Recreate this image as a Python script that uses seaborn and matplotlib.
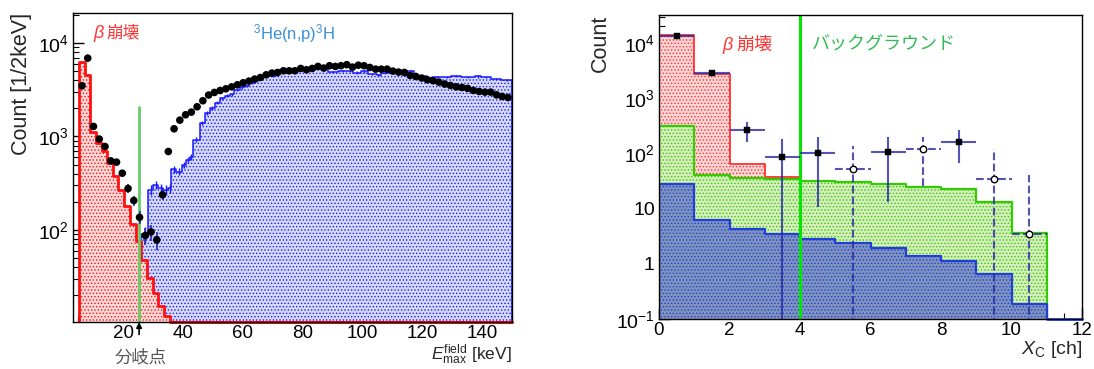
import numpy as np
import matplotlib
matplotlib.use("Agg")
import matplotlib.pyplot as plt
import seaborn as sns
from matplotlib.ticker import MultipleLocator, LogLocator, FixedLocator, FuncFormatter, NullFormatter

# ---------------- data: left panel (E_max^field spectrum) ----------------
beta_edges = [5.2, 7.1, 9.0, 10.9, 12.8, 14.7, 16.5, 18.4, 20.3, 22.2, 24.1, 26.0,
              27.9, 29.8, 31.7, 33.6, 35.5]
beta_counts = [6350, 4570, 1130, 849, 702, 518, 378, 268, 181, 115, 75, 47.7,
               30.4, 21, 15.3, 11.8]

he3_edges = [26.0, 28.3, 30.0, 31.7, 33.3, 35.0, 36.1, 37.8, 39.5, 41.1, 42.2, 43.3,
             45.6, 47.2, 48.9, 50.6, 52.2, 53.9, 55.6, 57.2, 58.9, 60.6, 62.2, 63.9,
             65.6, 67.2, 68.9, 71.0, 73.3, 76.0, 80.0, 84.0, 88.4, 91.7, 95.0, 96.7,
             99.5, 101.7, 105.0, 106.2, 109.0, 111.7, 115.0, 117.3, 121.7, 123.4,
             126.5, 129.7, 133.0, 137.5, 139.7, 143.0, 146.4, 150.0]
he3_counts = [90, 268, 303, 280, 268, 280, 447, 421, 497, 562, 610, 920, 1390, 1780,
              2013, 2310, 2580, 2724, 2843, 3160, 3345, 3490, 3725, 3980, 4330, 4570,
              4470, 5090, 5150, 5300, 5250, 5350, 4950, 5000, 5050, 4840, 4970, 4690,
              4570, 4800, 4880, 4970, 5050, 4390, 4220, 4300, 4350, 4470, 4330, 4390,
              4330, 4110, 4050]

data_first_center = 6.2
data_bin_step = 1.925
data_counts = [3490, 6900, 1280, 938, 780, 548, 531, 404, 277, 206, 136, 87, 95, 78, 237,
               690, 1208, 1496, 1707, 1823, 2080, 2412, 2774, 2960, 3107, 3240, 3400,
               3576, 3757, 3918, 4116, 4279, 4572,
               4775, 4842, 5050, 5050, 5050, 5350, 5180, 5350, 5620, 5400, 5720, 5620,
               5720, 5870, 5530, 5800, 5720, 5480, 5260, 5260, 5260, 5010, 4890, 4850,
               4500, 4390, 4220, 4050, 3950, 3820, 3640, 3520, 3400, 3345, 3270, 3107,
               3030, 2985, 2985, 2790, 2680, 2610]

split_energy = 25.3
split_line_top = 2080

# ---------------- data: right panel (X_C) ----------------
beta_xc_edges = [0, 1, 2, 3, 4]
beta_xc = [14000, 2750, 63, 37]
xc_edges = [0, 1, 2, 3, 4, 5, 6, 7, 8, 9, 10, 11]
bg_xc = [310, 40, 36, 34, 32, 30, 28, 25, 22.5, 13.4, 3.6]
he3_xc = [27.5, 6.3, 4.3, 3.5, 2.8, 2.35, 1.96, 1.4, 1.1, 0.64, 0.19]

obs_x = [0.5, 1.5, 2.5, 3.5, 4.5, 5.5, 6.5, 7.5, 8.5, 9.5, 10.5]
obs_y = [13500, 2850, 263, 85, 100, 51, 105, 122, 158, 35, 3.4]
obs_top = [13800, 2950, 366, 180, 195, 134, 195, 195, 262, 118, 40]
obs_bottom = [13200, 2750, 158, 0.001, 10.5, 0.001, 12.9, 26, 66, 0.001, 0.001]
obs_open = [False, False, False, False, False, True, False, True, False, True, True]

xc_cut = 4

# ---------------- style ----------------
sns.set_style("ticks")
plt.rcParams["font.family"] = ["Liberation Sans", "DejaVu Sans"]
plt.rcParams["mathtext.fontset"] = "custom"
plt.rcParams["mathtext.rm"] = "Liberation Sans"
plt.rcParams["mathtext.it"] = "Liberation Sans:italic"
plt.rcParams["mathtext.bf"] = "Liberation Sans:bold"
plt.rcParams["hatch.linewidth"] = 0.6
CJK = ["Noto Sans CJK JP", "DejaVu Sans"]

fig = plt.figure(figsize=(10.94, 3.69), dpi=100)
W, H = 1094, 369
ax1 = fig.add_axes([73 / W, 1 - 322 / H, 439 / W, 309 / H])
ax2 = fig.add_axes([659 / W, 1 - 319 / H, 423 / W, 304 / H])


def draw_hist(ax, edges, counts, face, line, lw, hatch, z):
    e = [float(v) for v in edges]
    c = [float(v) for v in counts]
    centers = [0.5 * (e[i] + e[i + 1]) for i in range(len(c))]
    sns.histplot(x=centers, weights=c, bins=e, element="step", fill=True,
                 facecolor=face, edgecolor=line, linewidth=lw, hatch=hatch,
                 alpha=1, ax=ax, zorder=z)


# ================= left panel =================
ax1.set_yscale("log")
draw_hist(ax1, he3_edges, he3_counts, "#d6daf8", "#1a1aff", 1.1, ".....", 1)
draw_hist(ax1, beta_edges, beta_counts, "#fcd8d8", "#ff1010", 2.0, ".....", 2)

he3_e = np.asarray(he3_edges, float)
he3_c = np.asarray(he3_counts, float)
ax1.errorbar(0.5 * (he3_e[1:] + he3_e[:-1]), he3_c, yerr=np.sqrt(3.5 * he3_c),
             fmt="none", ecolor="#1a1aff", elinewidth=1.0, zorder=3)

ylim1 = (10.3, 2.1e4)
ax1.plot([beta_edges[-1], 150], [ylim1[0], ylim1[0]], color="#ff1010", lw=2.2,
         clip_on=False, zorder=4)

ax1.plot([split_energy, split_energy], [ylim1[0], split_line_top], color="#66cc66",
         lw=2.0, zorder=5)

dc = np.asarray(data_counts, float)
dx = data_first_center + data_bin_step * np.arange(len(dc))
ax1.errorbar(dx, dc, yerr=np.sqrt(3.5 * dc), fmt="none", ecolor="#2a2ab0",
             elinewidth=1.2, zorder=6)
sns.scatterplot(x=dx, y=dc, color="black", s=30, edgecolor="none", ax=ax1, zorder=7)

ax1.set_xlim(3.2, 150)
ax1.set_ylim(*ylim1)
ax1.yaxis.set_major_locator(FixedLocator([1e2, 1e3, 1e4]))
ax1.yaxis.set_minor_locator(LogLocator(base=10, subs=np.arange(2, 10), numticks=100))
ax1.yaxis.set_minor_formatter(NullFormatter())
ax1.xaxis.set_major_locator(MultipleLocator(20))
ax1.xaxis.set_minor_locator(MultipleLocator(5))

ax1.set_ylabel("Count [1/2keV]", fontsize=15.5, loc="top", labelpad=4)
ax1.set_xlabel(r"$E_{\mathrm{max}}^{\mathrm{field}}$ [keV]", fontsize=12.5, loc="right",
               labelpad=0)

ax1.text(0.045, 0.935, r"$\beta$", transform=ax1.transAxes, color="#ff3535",
         fontsize=13, va="center", ha="left")
ax1.text(0.077, 0.935, "崩壊", transform=ax1.transAxes, color="#ff3535",
         fontsize=12, va="center", ha="left", family=CJK)
ax1.text(0.41, 0.932, r"$^{3}$He(n,p)$^{3}$H", transform=ax1.transAxes,
         color="#3a90d8", fontsize=12, va="center", ha="left")

ax1.annotate("", xy=(split_energy, ylim1[0]), xytext=(0, -9), textcoords="offset points",
             arrowprops=dict(arrowstyle="-|>", color="black", lw=1.2, mutation_scale=8,
                             shrinkA=0, shrinkB=0), annotation_clip=False, zorder=8)
fig.text(141 / W, 1 - 357 / H, "分岐点", color="#555555", fontsize=12.5, ha="center",
         va="center", family=CJK)

# ================= right panel =================
ax2.set_yscale("log")
draw_hist(ax2, beta_xc_edges, beta_xc, "#fcd6d6", "#ff3030", 1.3, ".....", 1)
draw_hist(ax2, xc_edges, bg_xc, "#d6edbd", "#33cc00", 1.6, ".....", 2)
draw_hist(ax2, xc_edges, he3_xc, "#7f93bd", "#1f3fd8", 1.6, ".....", 3)
ylim2 = (0.1, 3.2e4)
ax2.plot([11, 12], [ylim2[0], ylim2[0]], color="#2040ff", lw=2, clip_on=False, zorder=4)

ax2.axvline(xc_cut, color="#00e600", lw=2.2, zorder=5)

oy = np.asarray(obs_y, float)
lo = oy - np.asarray(obs_bottom, float)
hi = np.asarray(obs_top, float) - oy
ox = np.asarray(obs_x, float)
is_open = np.asarray(obs_open)
for mask, ls in [(~is_open, "-"), (is_open, "--")]:
    eb = ax2.errorbar(ox[mask], oy[mask], yerr=[lo[mask], hi[mask]], xerr=0.5,
                      fmt="none", ecolor="#2828a8", elinewidth=1.5, alpha=0.8, zorder=6)
    for coll in eb.lines[2]:
        coll.set_linestyle(ls)
sns.scatterplot(x=ox[~is_open], y=oy[~is_open], color="black", marker="s", s=14,
                edgecolor="black", ax=ax2, zorder=7)
sns.scatterplot(x=ox[is_open], y=oy[is_open], color="white", marker="o", s=22,
                edgecolor="black", linewidth=1.0, ax=ax2, zorder=7)

ax2.set_xlim(0, 12)
ax2.set_ylim(*ylim2)
ax2.yaxis.set_major_locator(FixedLocator([0.1, 1, 10, 1e2, 1e3, 1e4]))
labels = {0.1: r"$10^{-1}$", 1: "1", 10: "10", 1e2: r"$10^{2}$", 1e3: r"$10^{3}$",
          1e4: r"$10^{4}$"}
ax2.yaxis.set_major_formatter(FuncFormatter(
    lambda v, p: min(labels.items(), key=lambda kv: abs(np.log10(kv[0]) - np.log10(v)))[1]))
ax2.yaxis.set_minor_locator(LogLocator(base=10, subs=np.arange(2, 10), numticks=100))
ax2.yaxis.set_minor_formatter(NullFormatter())
ax2.xaxis.set_major_locator(MultipleLocator(2))
ax2.xaxis.set_minor_locator(MultipleLocator(0.5))

ax2.set_ylabel("Count", fontsize=15.5, loc="top", labelpad=4)
ax2.set_xlabel(r"$X_{\mathrm{C}}$ [ch]", fontsize=14, loc="right", labelpad=0)

ax2.text(0.149, 0.901, r"$\beta$", transform=ax2.transAxes, color="#ff3535",
         fontsize=13, va="center", ha="left")
ax2.text(0.184, 0.901, "崩壊", transform=ax2.transAxes, color="#ff3535",
         fontsize=13, va="center", ha="left", family=CJK)
ax2.text(0.362, 0.901, "バックグラウンド", transform=ax2.transAxes, color="#33bb55",
         fontsize=13, va="center", ha="left", family=CJK)

for ax in (ax1, ax2):
    ax.tick_params(axis="both", which="both", direction="in", top=False, right=False,
                   labelsize=14, colors="black")
    ax.tick_params(axis="x", which="both", labelsize=13.5)
    ax.tick_params(axis="both", which="major", length=8, width=1.0)
    ax.tick_params(axis="both", which="minor", length=4, width=0.8)
    ax.tick_params(axis="x", which="major", pad=2.5)
    ax.tick_params(axis="y", which="major", pad=3)
    for s in ax.spines.values():
        s.set_visible(True)
        s.set_color("black")
        s.set_linewidth(1.0)
        s.set_zorder(10)

fig.savefig("out.png", dpi=100)
